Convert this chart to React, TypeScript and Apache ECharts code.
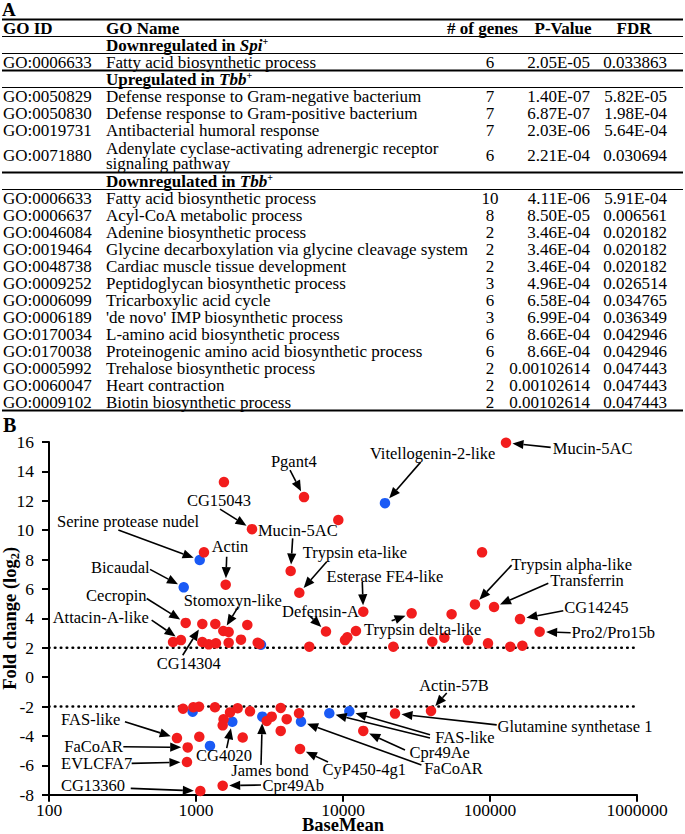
import React, { useEffect, useRef } from "react";
import * as echarts from "echarts";

const FONT = "Liberation Serif, Times New Roman, serif";

// ---------------- Table (panel A) data ----------------
const tableHeaders = ["GO ID", "GO Name", "# of genes", "P-Value", "FDR"];
const sectionTitles = [
  "Downregulated in {bi|Spi}{sup|+}",
  "Upregulated in {bi|Tbb}{sup|+}",
  "Downregulated in {bi|Tbb}{sup|+}",
];
const sectionRowCounts = [1, 4, 13];
const goIds = [
  "GO:0006633",
  "GO:0050829", "GO:0050830", "GO:0019731", "GO:0071880",
  "GO:0006633", "GO:0006637", "GO:0046084", "GO:0019464", "GO:0048738", "GO:0009252",
  "GO:0006099", "GO:0006189", "GO:0170034", "GO:0170038", "GO:0005992", "GO:0060047", "GO:0009102",
];
const goNames = [
  "Fatty acid biosynthetic process",
  "Defense response to Gram-negative bacterium",
  "Defense response to Gram-positive bacterium",
  "Antibacterial humoral response",
  "Adenylate cyclase-activating adrenergic receptor\nsignaling pathway",
  "Fatty acid biosynthetic process",
  "Acyl-CoA metabolic process",
  "Adenine biosynthetic process",
  "Glycine decarboxylation via glycine cleavage system",
  "Cardiac muscle tissue development",
  "Peptidoglycan biosynthetic process",
  "Tricarboxylic acid cycle",
  "'de novo' IMP biosynthetic process",
  "L-amino acid biosynthetic process",
  "Proteinogenic amino acid biosynthetic process",
  "Trehalose biosynthetic process",
  "Heart contraction",
  "Biotin biosynthetic process",
];
const geneCounts = [6, 7, 7, 7, 6, 10, 8, 2, 2, 2, 3, 6, 3, 6, 6, 2, 2, 2];
const pValues = [
  "2.05E-05", "1.40E-07", "6.87E-07", "2.03E-06", "2.21E-04", "4.11E-06", "8.50E-05", "3.46E-04",
  "3.46E-04", "3.46E-04", "4.96E-04", "6.58E-04", "6.99E-04", "8.66E-04", "8.66E-04",
  "0.00102614", "0.00102614", "0.00102614",
];
const fdrValues = [
  "0.033863", "5.82E-05", "1.98E-04", "5.64E-04", "0.030694", "5.91E-04", "0.006561", "0.020182",
  "0.020182", "0.020182", "0.026514", "0.034765", "0.036349", "0.042946", "0.042946",
  "0.047443", "0.047443", "0.047443",
];

// ---------------- Scatter (panel B) data ----------------
const xTickValues = [100, 1000, 10000, 100000, 1000000];
const thresholds = [2, -2];
const redBaseMean = [
  128500, 1549, 5430, 9290, 2404, 1133, 88300, 4406, 1592, 5045,
  79000, 106500, 13740, 29300, 54800, 160000, 851, 1104, 1353, 2234,
  1534, 1668, 7660, 12250, 217600, 698, 790, 1104, 1220, 1367,
  1668, 2023, 2628, 2700, 5900, 10320, 10700, 21990, 40500, 48900,
  70800, 96900, 137400, 166000, 816, 959, 1048, 1346, 1704, 1920,
  2330, 1540, 1519, 3027, 3274, 3770, 4140, 3770, 5020, 5100,
  742, 1053, 2078, 878, 868, 1070, 1519, 22590, 39700, 13740,
];
const redLog2FC = [
  15.95, 13.27, 12.25, 10.69, 10.07, 8.49, 8.49, 7.22, 6.29, 5.74,
  4.95, 4.77, 4.45, 4.34, 4.28, 3.95, 3.69, 3.62, 3.62, 3.55,
  3.14, 3.07, 3.1, 3.14, 3.09, 2.39, 2.52, 2.39, 2.23, 2.3,
  2.34, 2.55, 2.34, 2.25, 2.07, 2.52, 2.71, 2.07, 2.41, 2.68,
  2.52, 2.3, 2.07, 2.14, -2.15, -2.05, -2.01, -2.05, -2.4, -2.12,
  -2.33, -2.87, -3.28, -2.98, -2.69, -2.1, -2.86, -3.66, -2.46, -4.89,
  -4.15, -4.06, -4.11, -4.78, -5.78, -7.75, -7.39, -2.48, -2.3, -3.66,
];
const blueBaseMean = [19300, 1060, 825, 2768, 949, 1766, 2826, 5180, 8070, 11040, 1245];
const blueLog2FC = [11.84, 7.97, 6.11, 2.2, -2.35, -3.04, -2.69, -3.03, -2.46, -2.33, -4.68];

// Annotations: label, target point (series + index), text offset and arrow start offset (px)
const annotations: any[] = [
  { label: "Mucin-5AC", s: "r", i: 0, text: [86.6, 5.6], from: [44.7, 4.6] },
  { label: "Vitellogenin-2-like", s: "b", i: 0, text: [47.7, -49.4], from: [35.7, -41] },
  { label: "Pgant4", s: "r", i: 2, text: [-10.2, -35.3], from: [-14, -27] },
  { label: "CG15043", s: "r", i: 4, text: [-33, -28.3], from: [-32, -20] },
  { label: "Serine protease nudel", s: "b", i: 1, text: [-71.7, -39], from: [-81.4, -30] },
  { label: "Mucin-5AC", s: "r", i: 7, text: [7.1, -41], from: [2, -32.7] },
  { label: "Actin", s: "r", i: 8, text: [4.3, -38], from: [1, -28] },
  { label: "Trypsin eta-like", s: "r", i: 9, text: [55.7, -40], from: [27.4, -31] },
  { label: "Esterase FE4-like", s: "r", i: 12, text: [21.7, -35.7], from: [-1, -30] },
  { label: "Bicaudal", s: "b", i: 2, text: [-63.4, -20], from: [-33.7, -18] },
  { label: "Cecropin", s: "r", i: 16, text: [-69.4, -27], from: [-39, -24.4] },
  { label: "Stomoxyn-like", s: "r", i: 20, text: [9.4, -30], from: [15, -24.3] },
  { label: "Attacin-A-like", s: "r", i: 26, text: [-80.2, -22.3], from: [-29.3, -20] },
  { label: "CG14304", s: "r", i: 17, text: [-13.6, 39.6], from: [-19.6, 31.3] },
  { label: "Defensin-A", s: "r", i: 22, text: [-5.5, -20.3], from: [-16, -15.5] },
  { label: "Trypsin delta-like", s: "r", i: 13, text: [11, 16], from: [-20, 7.5] },
  { label: "Trypsin alpha-like", s: "r", i: 10, text: [96.7, -40.3], from: [36.7, -39.3] },
  { label: "Transferrin", s: "r", i: 11, text: [93, -26.3], from: [54.3, -23.7] },
  { label: "CG14245", s: "r", i: 15, text: [76.3, -11.3], from: [43.3, -8.3] },
  { label: "Pro2/Pro15b", s: "r", i: 24, text: [73.6, 1], from: [31, 1] },
  { label: "Actin-57B", s: "r", i: 68, text: [23, -25.7], from: [15.7, -18] },
  { label: "Glutamine synthetase 1", s: "r", i: 67, text: [180, 13], from: [101.7, 11.3] },
  { label: "FAS-like", s: "b", i: 8, text: [135.7, 24], from: [100.7, 24.7], extra: [["b", 9, 80.7, 23.3]] },
  { label: "Cpr49Ae", s: "r", i: 69, text: [76.4, 21.7], from: [41.7, 19] },
  { label: "FaCoAR", s: "b", i: 7, text: [152.5, 47.3], from: [120.4, 43.3] },
  { label: "CyP450-4g1", s: "r", i: 59, text: [64.3, 21], from: [28, 13] },
  { label: "James bond", s: "b", i: 6, text: [7.7, 54.3], from: [-1.3, 48.3] },
  { label: "CG4020", s: "b", i: 5, text: [-8.3, 33.7], from: [-5.6, 26.3] },
  { label: "FAS-like", s: "r", i: 60, text: [-86.2, -19], from: [-52, -16.3] },
  { label: "FaCoAR", s: "r", i: 63, text: [-94, -0.6], from: [-64.4, -0.6] },
  { label: "EVLCFA7", s: "r", i: 64, text: [-90.3, 1.3], from: [-55.3, 1.3] },
  { label: "CG13360", s: "r", i: 65, text: [-107.3, -5.3], from: [-69.6, -2.7] },
  { label: "Cpr49Ab", s: "r", i: 66, text: [70.6, -0.7], from: [38.3, -0.7] },
];

// ---------------- Layout constants ----------------
const TABLE_LEFT = 2;
const TABLE_RIGHT = 683;
const TABLE_TOP = 19.5;
const ROW_H = 17;
const TFS = 17;
const COL_ID = 3;
const COL_NAME = 106;
const COL_GENES = 490;
const COL_P_RIGHT = 590;
const COL_FDR_RIGHT = 667;

function txt(x: number, y: number, text: string, opts: any = {}) {
  return {
    type: "text",
    x,
    y,
    silent: true,
    z: 20,
    style: {
      text,
      fontFamily: FONT,
      fontSize: opts.fontSize ?? TFS,
      fontWeight: opts.fontWeight ?? "normal",
      fill: "#000",
      align: opts.align ?? "left",
      verticalAlign: "middle",
      lineHeight: opts.lineHeight,
      rich: opts.rich,
    },
  };
}

function hline(y: number, w: number) {
  return {
    type: "line",
    silent: true,
    z: 20,
    shape: { x1: TABLE_LEFT, y1: y, x2: TABLE_RIGHT, y2: y },
    style: { stroke: "#000", lineWidth: w },
  };
}

function tableGraphics() {
  const out: any[] = [];
  out.push(txt(2, 9.5, "A", { fontWeight: "bold", fontSize: 19 }));
  out.push(txt(3, 424.5, "B", { fontWeight: "bold", fontSize: 20 }));
  let y = TABLE_TOP;
  out.push(hline(y, 2));
  const hc = y + ROW_H / 2;
  out.push(txt(COL_ID, hc, tableHeaders[0], { fontWeight: "bold" }));
  out.push(txt(COL_NAME, hc, tableHeaders[1], { fontWeight: "bold" }));
  out.push(txt(482.5, hc, tableHeaders[2], { fontWeight: "bold", align: "center" }));
  out.push(txt(563, hc, tableHeaders[3], { fontWeight: "bold", align: "center" }));
  out.push(txt(634, hc, tableHeaders[4], { fontWeight: "bold", align: "center" }));
  y += ROW_H;
  out.push(hline(y, 1));
  const rich = {
    bi: { fontFamily: FONT, fontSize: TFS, fontWeight: "bold", fontStyle: "italic", lineHeight: 17 },
    sup: { fontFamily: FONT, fontSize: 10, fontWeight: "bold", verticalAlign: "top", lineHeight: 10 },
  };
  let r = 0;
  sectionTitles.forEach((title, si) => {
    out.push(txt(COL_NAME, y + ROW_H / 2, title, { fontWeight: "bold", rich, lineHeight: 17 }));
    y += ROW_H;
    out.push(hline(y, 1));
    for (let k = 0; k < sectionRowCounts[si]; k++, r++) {
      const units = goNames[r].includes("\n") ? 2 : 1;
      const cy = y + (units * ROW_H) / 2;
      out.push(txt(COL_ID, cy, goIds[r]));
      out.push(txt(COL_NAME, cy, goNames[r], { lineHeight: 15 }));
      out.push(txt(COL_GENES, cy, String(geneCounts[r]), { align: "center" }));
      out.push(txt(COL_P_RIGHT, cy, pValues[r], { align: "right" }));
      out.push(txt(COL_FDR_RIGHT, cy, fdrValues[r], { align: "right" }));
      y += units * ROW_H;
    }
    out.push(hline(y, 2));
  });
  return out;
}

function annotationGraphics(chart: any) {
  const out: any[] = [];
  const px = (s: string, i: number) =>
    chart.convertToPixel(
      { gridIndex: 0 },
      s === "r" ? [redBaseMean[i], redLog2FC[i]] : [blueBaseMean[i], blueLog2FC[i]]
    );
  for (const a of annotations) {
    const p = px(a.s, a.i);
    out.push({
      type: "text",
      x: p[0] + a.text[0],
      y: p[1] + a.text[1],
      silent: true,
      z: 30,
      style: {
        text: a.label,
        fontFamily: FONT,
        fontSize: 16.5,
        fill: "#000",
        align: "center",
        verticalAlign: "middle",
      },
    });
    const arrows = [[a.s, a.i, a.from[0], a.from[1]], ...(a.extra || [])];
    for (const [s, i, dx, dy] of arrows) {
      const q = px(s, i);
      const sx = q[0] + dx;
      const sy = q[1] + dy;
      const vx = sx - q[0];
      const vy = sy - q[1];
      const L = Math.hypot(vx, vy);
      const ux = vx / L;
      const uy = vy / L;
      const tipX = q[0] + ux * 6.5;
      const tipY = q[1] + uy * 6.5;
      const head = Math.min(11, L - 8);
      const bx = tipX + ux * head;
      const by = tipY + uy * head;
      const nx = -uy;
      const ny = ux;
      out.push({
        type: "line",
        silent: true,
        z: 30,
        shape: { x1: sx, y1: sy, x2: bx, y2: by },
        style: { stroke: "#000", lineWidth: 1.6 },
      });
      out.push({
        type: "polygon",
        silent: true,
        z: 30,
        shape: {
          points: [
            [tipX, tipY],
            [bx + nx * 4.6, by + ny * 4.6],
            [bx - nx * 4.6, by - ny * 4.6],
          ],
        },
        style: { fill: "#000" },
      });
    }
  }
  return out;
}

export default function App() {
  const ref = useRef<HTMLDivElement>(null);
  useEffect(() => {
    const chart = echarts.init(ref.current!, null, { renderer: "svg" });
    const axisFont = { fontFamily: FONT, color: "#000" };
    const option: any = {
      animation: false,
      grid: { left: 49, right: 48, top: 442, bottom: 39.3, outerBoundsMode: "none" },
      xAxis: {
        type: "log",
        logBase: 10,
        min: xTickValues[0],
        max: xTickValues[xTickValues.length - 1],
        name: "BaseMean",
        nameLocation: "middle",
        nameGap: 21,
        nameMoveOverlap: false,
        nameTextStyle: { ...axisFont, fontSize: 18.5, fontWeight: "bold" },
        axisLine: { show: true, onZero: false, lineStyle: { color: "#000", width: 2 } },
        axisTick: { show: true, length: 7, lineStyle: { color: "#000", width: 2 } },
        minorTick: { show: false },
        splitLine: { show: false },
        axisLabel: {
          ...axisFont,
          fontSize: 17.5,
          margin: 6,
          formatter: (v: number) => String(Math.round(v)),
        },
      },
      yAxis: {
        type: "value",
        min: -8,
        max: 16,
        interval: 2,
        name: "Fold change (log{sub|2})",
        nameLocation: "middle",
        nameRotate: 90,
        nameGap: 28,
        nameMoveOverlap: false,
        nameTextStyle: {
          ...axisFont,
          fontSize: 18.5,
          fontWeight: "bold",
          lineHeight: 22,
          rich: {
            sub: { fontFamily: FONT, fontSize: 12.5, fontWeight: "bold", color: "#000", verticalAlign: "bottom", lineHeight: 12 },
          },
        },
        axisLine: { show: true, onZero: false, lineStyle: { color: "#000", width: 2 } },
        axisTick: { show: true, length: 7, lineStyle: { color: "#000", width: 2 } },
        splitLine: { show: false },
        axisLabel: { ...axisFont, fontSize: 17.5, margin: 15 },
      },
      series: [
        ...thresholds.map((t) => ({
          type: "line",
          data: [
            [xTickValues[0], t],
            [950000, t],
          ],
          symbol: "none",
          silent: true,
          z: 1,
          lineStyle: { color: "#000", width: 2.6, type: [0.5, 5.4], cap: "round" },
        })),
        {
          type: "scatter",
          name: "blue",
          data: blueBaseMean.map((x, i) => [x, blueLog2FC[i]]),
          symbolSize: 10.5,
          itemStyle: { color: "#1a5af5", opacity: 1 },
          z: 2,
        },
        {
          type: "scatter",
          name: "red",
          data: redBaseMean.map((x, i) => [x, redLog2FC[i]]),
          symbolSize: 10.5,
          itemStyle: { color: "#f21d1d", opacity: 1 },
          z: 3,
        },
      ],
    };
    chart.setOption(option);
    chart.setOption({ graphic: [...tableGraphics(), ...annotationGraphics(chart)] });
    return () => chart.dispose();
  }, []);
  return (
    <div
      ref={ref}
      style={{ position: "absolute", left: 0, top: 0, width: 685, height: 834 }}
    />
  );
}
